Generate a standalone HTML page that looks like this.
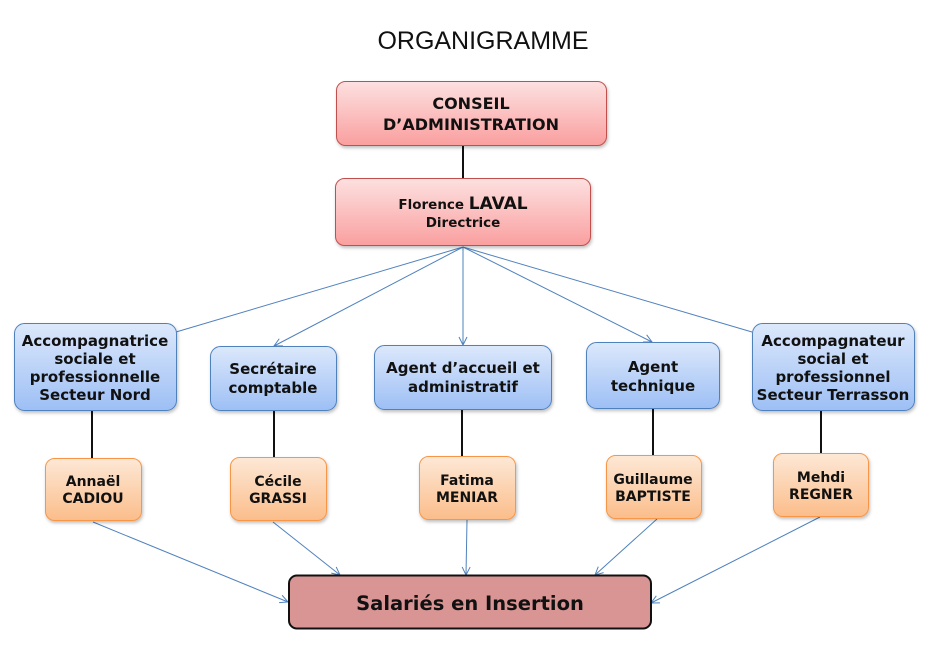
<!DOCTYPE html>
<html><head><meta charset="utf-8"><style>
html,body{margin:0;padding:0;background:#fff;}
svg{display:block;}
text{font-family:"DejaVu Sans","Liberation Sans",sans-serif;font-weight:bold;fill:#111;text-anchor:middle;}
</style></head><body>
<svg width="928" height="652" viewBox="0 0 928 652" xmlns="http://www.w3.org/2000/svg">
<defs>
<linearGradient id="r" x1="0" y1="0" x2="0" y2="1"><stop offset="0" stop-color="#fde0e0"/><stop offset="1" stop-color="#fa9f9f"/></linearGradient>
<linearGradient id="b" x1="0" y1="0" x2="0" y2="1"><stop offset="0" stop-color="#dce8fb"/><stop offset="1" stop-color="#9dbff5"/></linearGradient>
<linearGradient id="o" x1="0" y1="0" x2="0" y2="1"><stop offset="0" stop-color="#fde8d6"/><stop offset="1" stop-color="#fbbd8a"/></linearGradient>
<marker id="a" markerWidth="10" markerHeight="10" refX="9" refY="5" orient="auto" markerUnits="userSpaceOnUse"><path d="M1,1 L9,5 L1,9" fill="none" stroke="#4f81bd" stroke-width="1"/></marker>
<filter id="s" x="-10%" y="-10%" width="130%" height="130%"><feDropShadow dx="1" dy="2" stdDeviation="1.5" flood-color="#000" flood-opacity="0.25"/></filter>
</defs>
<text x="483" y="49" style="font-weight:normal;font-size:25px;font-family:'Liberation Sans',sans-serif">ORGANIGRAMME</text>

<g stroke="#111" stroke-width="2">
<line x1="463" y1="145" x2="463" y2="178"/>
<line x1="92" y1="410" x2="92" y2="458"/>
<line x1="274" y1="410" x2="274" y2="457"/>
<line x1="462" y1="409" x2="462" y2="456"/>
<line x1="653" y1="408" x2="653" y2="455"/>
<line x1="821" y1="410" x2="821" y2="453"/>
</g>
<g stroke="#4f81bd" stroke-width="1" fill="none">
<line x1="463" y1="247" x2="176" y2="332"/>
<line x1="463" y1="247" x2="274" y2="346" marker-end="url(#a)"/>
<line x1="463" y1="247" x2="463" y2="345" marker-end="url(#a)"/>
<line x1="463" y1="247" x2="652" y2="342" marker-end="url(#a)"/>
<line x1="463" y1="247" x2="752" y2="332"/>
<line x1="93" y1="522" x2="288" y2="602" marker-end="url(#a)"/>
<line x1="273" y1="522" x2="340" y2="575" marker-end="url(#a)"/>
<line x1="467" y1="520" x2="466" y2="575" marker-end="url(#a)"/>
<line x1="657" y1="519" x2="595" y2="575" marker-end="url(#a)"/>
<line x1="820" y1="517" x2="651" y2="603" marker-end="url(#a)"/>
</g>

<g filter="url(#s)">
<rect x="336.5" y="81.5" width="270" height="64" rx="9" fill="url(#r)" stroke="#c0504d"/>
<rect x="335.5" y="178.5" width="255" height="67" rx="9" fill="url(#r)" stroke="#c0504d"/>
</g>
<text x="471" y="109" font-size="16">CONSEIL</text>
<text x="471" y="130" font-size="16">D’ADMINISTRATION</text>
<text x="463" y="209" font-size="13.5">Florence <tspan font-size="17">LAVAL</tspan></text>
<text x="463" y="227" font-size="13.5">Directrice</text>

<g stroke="#4f81bd" fill="url(#b)" filter="url(#s)">
<rect x="14.5" y="323.5" width="162" height="87" rx="10"/>
<rect x="210.5" y="346.5" width="126" height="64" rx="10"/>
<rect x="374.5" y="345.5" width="177" height="64" rx="10"/>
<rect x="586.5" y="342.5" width="133" height="66" rx="10"/>
<rect x="752.5" y="323.5" width="162" height="87" rx="10"/>
</g>
<g font-size="15">
<text x="95" y="346">Accompagnatrice</text><text x="95" y="364">sociale et</text><text x="95" y="382">professionnelle</text><text x="95" y="400">Secteur Nord</text>
<text x="273" y="374">Secrétaire</text><text x="273" y="393">comptable</text>
<text x="463" y="373">Agent d’accueil et</text><text x="463" y="392">administratif</text>
<text x="653" y="372">Agent</text><text x="653" y="391">technique</text>
<text x="833" y="346">Accompagnateur</text><text x="833" y="364">social et</text><text x="833" y="382">professionnel</text><text x="833" y="400">Secteur Terrasson</text>
</g>

<g stroke="#f79646" fill="url(#o)" filter="url(#s)">
<rect x="45.5" y="458.5" width="96" height="62" rx="9"/>
<rect x="230.5" y="457.5" width="96" height="63" rx="9"/>
<rect x="419.5" y="456.5" width="96" height="63" rx="9"/>
<rect x="606.5" y="455.5" width="95" height="63" rx="9"/>
<rect x="773.5" y="453.5" width="95" height="63" rx="9"/>
</g>
<g font-size="14">
<text x="93" y="486">Annaël</text><text x="93" y="503">CADIOU</text>
<text x="278" y="486">Cécile</text><text x="278" y="503">GRASSI</text>
<text x="467" y="485">Fatima</text><text x="467" y="502">MENIAR</text>
<text x="653" y="484">Guillaume</text><text x="653" y="501">BAPTISTE</text>
<text x="821" y="482">Mehdi</text><text x="821" y="499">REGNER</text>
</g>

<rect x="289" y="575.5" width="362" height="53" rx="8" fill="#d99594" stroke="#111" stroke-width="2"/>
<text x="470" y="610" font-size="19.5">Salariés en Insertion</text>
</svg>
</body></html>
